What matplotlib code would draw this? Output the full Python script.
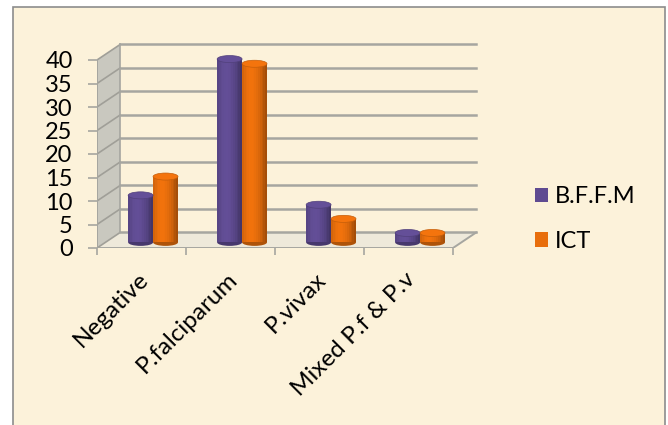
import numpy as np
import matplotlib.pyplot as plt
from matplotlib.patches import Polygon, Ellipse, Rectangle, Patch
import matplotlib.transforms as mtransforms
from matplotlib.colors import to_rgb

plt.rcParams['font.family'] = ['Lato', 'DejaVu Sans']

# data
categories = ['Negative', 'P.falciparum', 'P.vivax', 'Mixed P.f & P.v']
bffm = [10, 39, 8, 2]
ict = [14, 38, 5, 2]
series_names = ['B.F.F.M', 'ICT']
yticks = [0, 5, 10, 15, 20, 25, 30, 35, 40]

purple = '#5f4b91'
orange = '#e86e0c'
bg = '#fcf2da'
grid_c = '#a6a6a0'

# fake 3d: back wall offset (data units), bars stand half way in
dx, dy = 0.26, 3.3
base = 1.2
bw = 0.28
eh = 1.5  # ellipse height of cylinder caps

fig = plt.figure(figsize=(6.68, 4.25), dpi=100)
fig.patch.set_facecolor('white')
fig.add_artist(Rectangle((13 / 668, -0.05), 652 / 668, 1.05 - 7 / 425,
                         transform=fig.transFigure, facecolor=bg,
                         edgecolor='#8c8c8c', lw=1.2, zorder=-10))

ax = fig.add_axes([97 / 668, 177 / 425, 4.35 * 89 / 668, 44 * 4.7 / 425])
ax.set_xlim(0, 4.35)
ax.set_ylim(0, 44)
ax.patch.set_visible(False)
for s in ax.spines.values():
    s.set_visible(False)

n = len(categories)

# side wall + floor
ax.add_patch(Polygon([(0, 0), (0, 40), (dx, 40 + dy), (dx, dy)],
                     closed=True, facecolor='#c9c8bf', edgecolor='none', zorder=1))
ax.add_patch(Polygon([(0, 0), (n, 0), (n + dx, dy), (dx, dy)],
                     closed=True, facecolor='#eee9da', edgecolor='none', zorder=1))

# gridlines on side wall and back wall
for v in yticks:
    ax.plot([0, dx], [v, v + dy], color='#a09f98', lw=1.2, zorder=2)
    ax.plot([dx, n + dx], [v + dy, v + dy], color=grid_c, lw=1.8, zorder=2)
ax.plot([dx, dx], [dy, 40 + dy], color=grid_c, lw=1.2, zorder=2)

# front axis lines
ax.plot([0, 0], [0, 40], color=grid_c, lw=1.4, zorder=2)
ax.plot([0, n, n + dx], [0, 0, dy], color=grid_c, lw=1.4, zorder=2)


def cylinder(xc, val, color):
    rgb = np.array(to_rgb(color))
    k = 14
    xs = xc - bw / 2 + (np.arange(k) + 0.5) * bw / k
    t = (xs - xc) / (bw / 2)
    light = 0.7 + 0.34 * np.cos((t + 0.25) * np.pi / 2.4)
    cols = [tuple(np.clip(rgb * l, 0, 1)) for l in light]
    ax.add_patch(Ellipse((xc, base), bw, eh, facecolor=tuple(rgb * 0.75),
                         edgecolor='none', zorder=3))
    ax.bar(xs, val, bottom=base, width=bw / k * 1.05, color=cols,
           linewidth=0, zorder=4)
    ax.add_patch(Ellipse((xc, base + val), bw, eh,
                         facecolor=tuple(np.clip(rgb * 1.05, 0, 1)),
                         edgecolor=tuple(rgb * 0.85), lw=0.5, zorder=5))


for j, (vals, col) in enumerate([(bffm, purple), (ict, orange)]):
    for i, v in enumerate(vals):
        xc = i + 0.5 + dx / 2 + (j - 0.5) * bw
        cylinder(xc, v, col)

# ticks
ax.set_yticks(yticks)
ax.tick_params(axis='y', length=6.5, width=1.2, color=grid_c, pad=11,
               labelsize=17)
ax.set_xticks(range(n + 1))
ax.set_xticklabels([])
ax.set_xticks([i + 0.5 for i in range(n)], minor=True)
ax.set_xticklabels(categories, minor=True, rotation=45, ha='right',
                   rotation_mode='anchor', fontsize=17.5)
ax.tick_params(axis='x', which='major', length=5, width=1.2, color=grid_c)
ax.tick_params(axis='x', which='minor', length=0, pad=15)
offset = mtransforms.ScaledTranslation(-3 / 72, 0, fig.dpi_scale_trans)
for lab in ax.get_xticklabels(minor=True):
    lab.set_transform(lab.get_transform() + offset)

handles = [Patch(facecolor=purple), Patch(facecolor=orange)]
fig.legend(handles, series_names, loc='upper left',
           bbox_to_anchor=(514 / 668, 1 - 165 / 425), frameon=False,
           fontsize=17, handlelength=0.55, handleheight=0.55,
           handletextpad=0.3, labelspacing=1.0)

fig.savefig('out.png', dpi=100, facecolor=fig.get_facecolor())
